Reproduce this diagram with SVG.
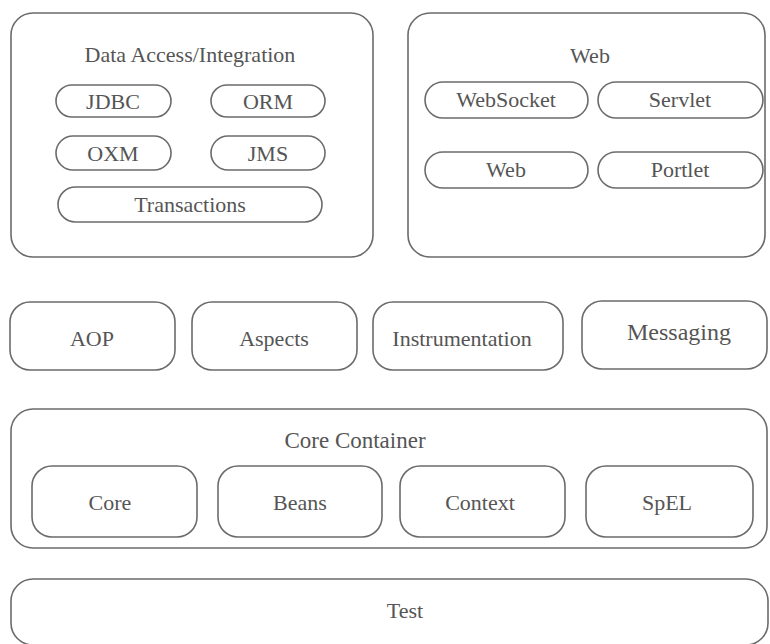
<svg xmlns="http://www.w3.org/2000/svg" width="770" height="644" viewBox="0 0 770 644">
<style>
rect{fill:none;stroke:#6b6b6b;stroke-width:1.6}
text{font-family:"Liberation Serif","Times New Roman",serif;font-size:22px;fill:#555;text-anchor:middle}
</style>
<rect x="0" y="0" width="770" height="644" style="fill:#fff;stroke:none"/>
<g id="data-access">
<rect x="11" y="13" width="362" height="244" rx="22"/>
<text x="190" y="62">Data Access/Integration</text>
</g>
<g id="jdbc"><rect x="56" y="85" width="115" height="32" rx="16"/><text x="113" y="109">JDBC</text></g>
<g id="orm"><rect x="211" y="85" width="114" height="32" rx="16"/><text x="268" y="109">ORM</text></g>
<g id="oxm"><rect x="56" y="136" width="115" height="34" rx="17"/><text x="113" y="161">OXM</text></g>
<g id="jms"><rect x="211" y="136" width="114" height="34" rx="17"/><text x="268" y="161">JMS</text></g>
<g id="transactions"><rect x="58" y="187" width="264" height="35" rx="17.5"/><text x="190" y="212">Transactions</text></g>
<g id="web-group">
<rect x="408" y="13" width="357" height="244" rx="22"/>
<text x="590" y="63">Web</text>
</g>
<g id="websocket"><rect x="425" y="82" width="163" height="36" rx="18"/><text x="506" y="107">WebSocket</text></g>
<g id="servlet"><rect x="598" y="82" width="165" height="36" rx="18"/><text x="680" y="107">Servlet</text></g>
<g id="web"><rect x="425" y="152" width="163" height="36" rx="18"/><text x="506" y="177">Web</text></g>
<g id="portlet"><rect x="598" y="152" width="165" height="36" rx="18"/><text x="680" y="177">Portlet</text></g>
<g id="aop"><rect x="10" y="302" width="165" height="68" rx="20"/><text x="92" y="346">AOP</text></g>
<g id="aspects"><rect x="192" y="302" width="165" height="68" rx="20"/><text x="274" y="346">Aspects</text></g>
<g id="instrumentation"><rect x="373" y="302" width="190" height="68" rx="20"/><text x="462" y="346">Instrumentation</text></g>
<g id="messaging"><rect x="582" y="301" width="185" height="68" rx="20"/><text x="679" y="340" style="font-size:24px">Messaging</text></g>
<g id="core-container">
<rect x="11" y="409" width="756" height="139" rx="22"/>
<text x="355" y="448" style="font-size:23px">Core Container</text>
</g>
<g id="core"><rect x="32" y="466" width="165" height="71" rx="20"/><text x="110" y="510">Core</text></g>
<g id="beans"><rect x="218" y="466" width="164" height="71" rx="20"/><text x="300" y="510">Beans</text></g>
<g id="context"><rect x="400" y="466" width="165" height="71" rx="20"/><text x="480" y="510">Context</text></g>
<g id="spel"><rect x="586" y="466" width="167" height="71" rx="20"/><text x="667" y="510">SpEL</text></g>
<g id="test"><rect x="11" y="579" width="757" height="66" rx="22"/><text x="405" y="618">Test</text></g>
<g id="connectors"></g>
</svg>
